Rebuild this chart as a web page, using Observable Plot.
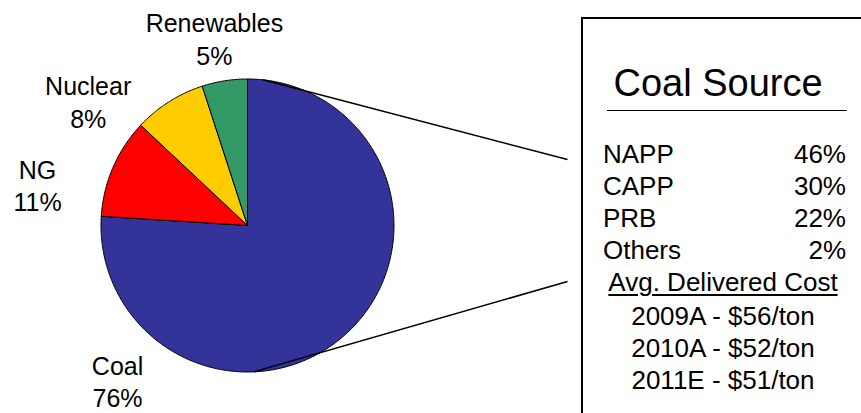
<!DOCTYPE html>
<html>
<head>
<meta charset="utf-8">
<script src="https://cdn.jsdelivr.net/npm/d3@7"></script>
<script src="https://cdn.jsdelivr.net/npm/@observablehq/plot@0.6"></script>
<style>
  html, body { margin: 0; padding: 0; background: #fff; }
  #wrap { position: relative; width: 861px; height: 413px; overflow: hidden;
          font-family: "Liberation Sans", Arial, Helvetica, sans-serif; color: #000; }
  #chart { position: absolute; left: 0; top: 0; }
  #box { position: absolute; left: 581px; top: 17px; width: 320px; height: 440px;
         border: 2px solid #000; box-sizing: border-box; }
  .t { position: absolute; white-space: nowrap; line-height: 1; }
  #title { font-size: 38px; left: 0; width: 270px; text-align: center; }
  #rule { position: absolute; left: 24px; width: 240px; height: 0; border-top: 1.5px solid #000; }
  .row { font-size: 26px; left: 20px; width: 243px; display: flex; justify-content: space-between; }
  .ctr { font-size: 26px; left: 0; width: 280px; text-align: center; }
  .u { text-decoration: underline; text-decoration-thickness: 1.5px; text-underline-offset: 3px; }
</style>
</head>
<body>
<div id="wrap">
  <div id="chart"></div>
  <div id="box"></div>
</div>
<script>
// Generation mix (share of output, %)
const sources = ["Coal", "NG", "Nuclear", "Renewables"];
const shares = [76, 11, 8, 5];
const sliceColors = ["#333399", "#FF0000", "#FFCC00", "#339966"];

// Coal supply basins (%)
const coalBasins = ["NAPP", "CAPP", "PRB", "Others"];
const basinShares = [46, 30, 22, 2];

// Average delivered coal cost ($/ton)
const costYears = ["2009A", "2010A", "2011E"];
const costValues = [56, 52, 51];

// Pie geometry: unit circle mapped onto pixel positions
const cx = 247, cy = 225, R = 146.5;

const slices = d3.pie().sort(null).value(d => d.share)(
  sources.map((name, i) => ({name, share: shares[i]}))
);

// Polygon outline for each wedge (angles clockwise from 12 o'clock)
const wedgePts = [];
for (const s of slices) {
  const n = Math.max(8, Math.ceil((s.endAngle - s.startAngle) / 0.01));
  wedgePts.push({name: s.data.name, x: 0, y: 0});
  for (let k = 0; k <= n; k++) {
    const a = s.startAngle + (s.endAngle - s.startAngle) * k / n;
    wedgePts.push({name: s.data.name, x: Math.sin(a), y: Math.cos(a)});
  }
  wedgePts.push({name: s.data.name, x: 0, y: 0});
}

// Label placement: direction (degrees clockwise from top) and distance in radii
const labelPlace = {Renewables: [350, 1.30], Nuclear: [308, 1.38], NG: [281, 1.46], Coal: [220, 1.38]};
const labels = slices.map(s => {
  const [deg, r] = labelPlace[s.data.name];
  const a = deg * Math.PI / 180;
  return {text: `${s.data.name}\n${s.data.share}%`, x: r * Math.sin(a), y: r * Math.cos(a)};
});

// Connector lines from the coal wedge to the detail box
const boxEdgeX = (567 - cx) / R;
const connectors = [
  {a: 6 * Math.PI / 180, y2: (cy - 159) / R},
  {a: 177.5 * Math.PI / 180, y2: (cy - 281) / R}
].map(c => ({x1: Math.sin(c.a), y1: Math.cos(c.a), x2: boxEdgeX, y2: c.y2}));

const plot = Plot.plot({
  width: 861,
  height: 413,
  margin: 0,
  x: {domain: [-1, 1], range: [cx - R, cx + R], axis: null},
  y: {domain: [-1, 1], range: [cy + R, cy - R], axis: null},
  color: {domain: sources, range: sliceColors},
  style: {fontFamily: "'Liberation Sans', Arial, sans-serif", overflow: "visible"},
  marks: [
    Plot.line(wedgePts, {x: "x", y: "y", z: "name", fill: "name", stroke: "#000", strokeWidth: 1, curve: "linear"}),
    Plot.link(connectors, {x1: "x1", y1: "y1", x2: "x2", y2: "y2", stroke: "#000", strokeWidth: 1.5}),
    Plot.text(labels, {x: "x", y: "y", text: "text", fontSize: 25, lineHeight: 1.3, fill: "#000", textAnchor: "middle"})
  ]
});
document.getElementById("chart").appendChild(plot);

// Detail box contents
const box = d3.select("#box");
box.append("div").attr("id", "title").attr("class", "t").style("top", "45px").text("Coal Source");
box.append("div").attr("id", "rule").style("top", "91px");
coalBasins.forEach((b, i) => {
  const row = box.append("div").attr("class", "t row").style("top", `${122 + i * 32}px`);
  row.append("span").text(b);
  row.append("span").text(`${basinShares[i]}%`);
});
box.append("div").attr("class", "t ctr").style("top", "250px")
  .append("span").attr("class", "u").text("Avg. Delivered Cost");
costYears.forEach((yr, i) => {
  box.append("div").attr("class", "t ctr").style("top", `${284 + i * 32}px`)
    .text(`${yr} - $${costValues[i]}/ton`);
});
</script>
</body>
</html>
